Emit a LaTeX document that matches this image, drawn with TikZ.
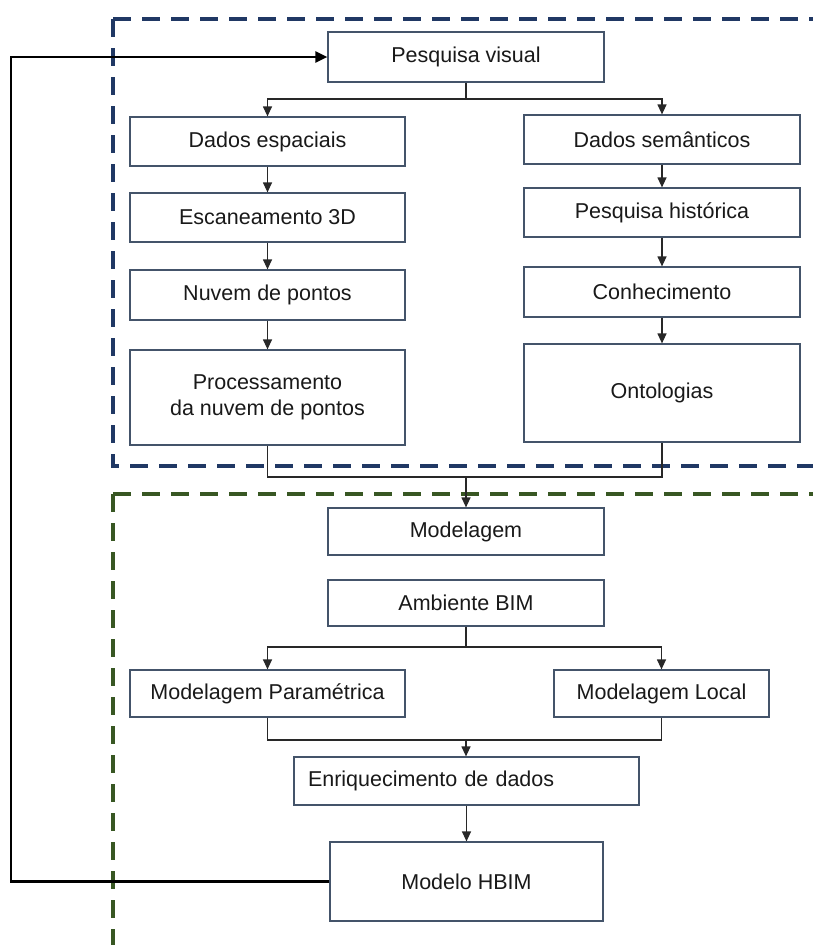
\documentclass[tikz,border=0pt]{standalone}
\usepackage{fontspec}
\setmainfont{Liberation Sans}
\usetikzlibrary{arrows.meta}

\definecolor{boxline}{RGB}{68,84,106}
\definecolor{navy}{RGB}{32,56,100}
\definecolor{leaf}{RGB}{56,87,35}
\definecolor{conn}{RGB}{40,40,40}
\definecolor{ink}{RGB}{25,25,25}

\begin{document}
\begin{tikzpicture}[x=1pt,y=-1pt,
  stepbox/.style={draw=boxline, line width=1.2pt, fill=white, inner sep=0pt,
    align=center, text=ink, font=\fontsize{21.5}{26}\selectfont},
  link/.style={draw=conn, line width=1.2pt},
  arr/.style={link, -{Triangle[length=10pt,width=9pt]}},
  loopback/.style={draw=black, line width=2.2pt, -{Triangle[length=12pt,width=11pt]}},
  region/.style={line width=3.6pt, dash pattern=on 18pt off 11pt}
]
\useasboundingbox (0,0) rectangle (813,945);

% dashed region outlines
\draw[region, navy] (113,19) -- (813,19);
\draw[region, navy] (113,19) -- (113,466) -- (813,466);
\draw[region, leaf] (113,494) -- (813,494);
\draw[region, leaf] (113,494) -- (113,945);

% process boxes
\node[stepbox, minimum width=276pt, minimum height=50pt] (pv) at (466,57) {Pesquisa visual};

\node[stepbox, minimum width=275pt, minimum height=49pt] (de)  at (267.5,141.5) {Dados espaciais};
\node[stepbox, minimum width=275pt, minimum height=49pt] (esc) at (267.5,217.5) {Escaneamento 3D};
\node[stepbox, minimum width=275pt, minimum height=50pt] (nuv) at (267.5,295) {Nuvem de pontos};
\node[stepbox, minimum width=275pt, minimum height=95pt] (proc) at (267.5,397.5) {Processamento\\da nuvem de pontos};

\node[stepbox, minimum width=276pt, minimum height=49pt] (ds)  at (662,139.5) {Dados semânticos};
\node[stepbox, minimum width=276pt, minimum height=49pt] (ph)  at (662,212.5) {Pesquisa histórica};
\node[stepbox, minimum width=276pt, minimum height=50pt] (con) at (662,292) {Conhecimento};
\node[stepbox, minimum width=276pt, minimum height=98pt] (ont) at (662,393) {Ontologias};

\node[stepbox, minimum width=276pt, minimum height=47pt] (mod) at (466,531.5) {Modelagem};
\node[stepbox, minimum width=276pt, minimum height=46pt] (amb) at (466,603) {Ambiente BIM};

\node[stepbox, minimum width=275pt, minimum height=47pt] (mpar) at (267.5,693.5) {Modelagem Paramétrica};
\node[stepbox, minimum width=215pt, minimum height=47pt] (mloc) at (661.5,693.5) {Modelagem Local};

\node[stepbox, text width=317pt, inner xsep=14pt, align=left, minimum height=48pt] (enr) at (466.5,781) {Enriquecimento de dados};
\node[stepbox, minimum width=273pt, minimum height=79pt] (hbim) at (466.5,881.5) {Modelo HBIM};

% junction points
\coordinate (s1) at (466,99);
\coordinate (m1) at (466,477);
\coordinate (s2) at (466,647);
\coordinate (m2) at (466,740);
\coordinate (fb) at (11,0);

% upper branch
\draw[link] (pv.south) -- (s1);
\draw[arr] (s1) -| (de.north);
\draw[arr] (s1) -| (ds.north);
\draw[arr] (de) -- (esc);
\draw[arr] (esc) -- (nuv);
\draw[arr] (nuv) -- (proc);
\draw[arr] (ds) -- (ph);
\draw[arr] (ph) -- (con);
\draw[arr] (con) -- (ont);

% merge into modelling
\draw[link] (proc.south) |- (m1) -| (ont.south);
\draw[arr] (m1) -- (mod.north);

% lower branch
\draw[link] (amb.south) -- (s2);
\draw[arr] (s2) -| (mpar.north);
\draw[arr] (s2) -| (mloc.north);
\draw[link] (mpar.south) |- (m2) -| (mloc.south);
\draw[arr] (m2) -- (m2 |- enr.north);
\draw[arr] (enr.south -| hbim.north) -- (hbim.north);

% feedback loop
\draw[loopback] (hbim.west) -- (hbim.west -| fb) |- (pv.west);
\end{tikzpicture}
\end{document}
